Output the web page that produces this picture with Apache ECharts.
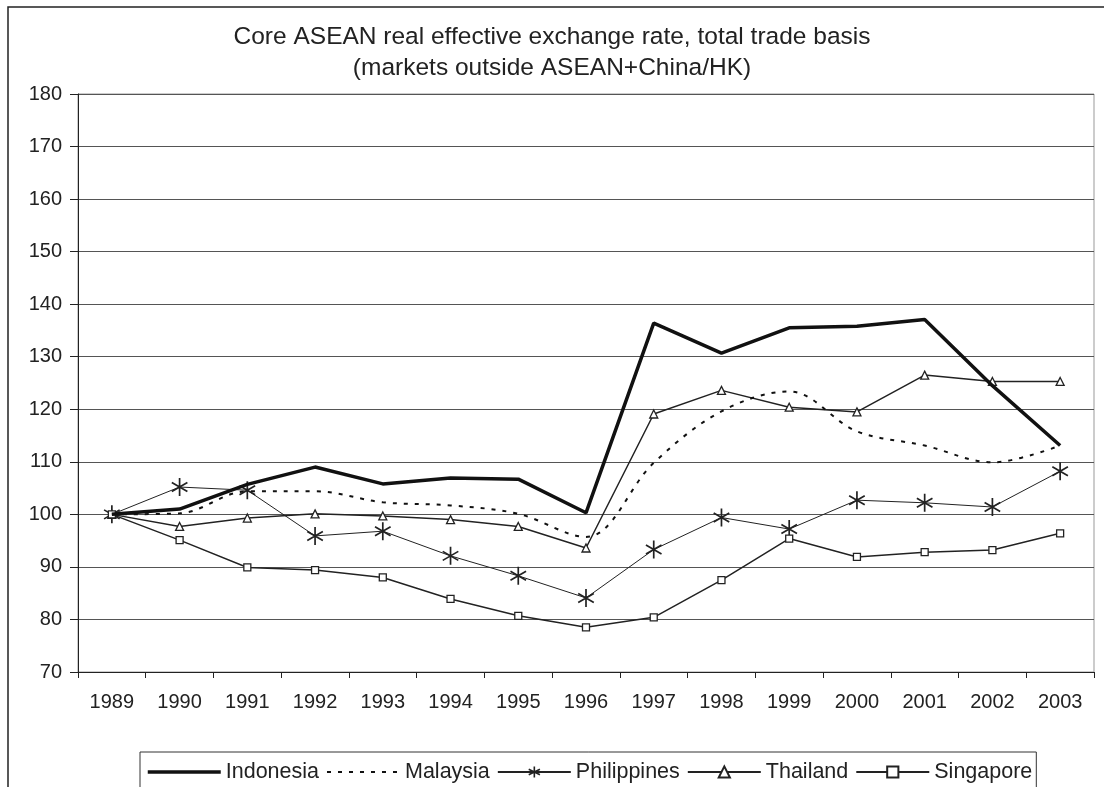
<!DOCTYPE html>
<html>
<head>
<meta charset="utf-8">
<script src="https://cdn.jsdelivr.net/npm/echarts@6/dist/echarts.min.js"></script>
<style>
  html, body { margin: 0; padding: 0; background: #fff; }
  #chart { width: 1104px; height: 787px; }
</style>
</head>
<body>
<div id="chart"></div>
<script>
// Years on the category axis
const years = ['1989','1990','1991','1992','1993','1994','1995','1996','1997','1998','1999','2000','2001','2002','2003'];

// Real effective exchange rate index, 1989 = 100
const indonesia   = [100, 101.0, 105.7, 109.0, 105.8, 106.9, 106.7, 100.3, 136.4, 130.7, 135.5, 135.8, 137.1, 124.5, 113.1];
const malaysia    = [100, 100.2, 104.4, 104.4, 102.3, 101.7, 100.1, 95.7, 109.8, 119.6, 123.4, 115.8, 113.1, 109.9, 113.1];
const philippines = [100, 105.2, 104.6, 95.9, 96.8, 92.1, 88.3, 84.1, 93.3, 99.4, 97.2, 102.7, 102.2, 101.4, 108.2];
const thailand    = [100, 97.7, 99.3, 100.1, 99.7, 99.0, 97.7, 93.6, 119.1, 123.6, 120.4, 119.5, 126.5, 125.3, 125.3];
const singapore   = [100, 95.1, 89.9, 89.4, 88.0, 83.9, 80.7, 78.5, 80.4, 87.5, 95.4, 91.9, 92.8, 93.2, 96.4];

const FONT = '"Liberation Sans", Arial, sans-serif';
const INK = '#222';
const CLEAR = 'rgba(0,0,0,0)';

// six-armed star marker
const asterisk = 'path://M0,-10L0,10M-8.66,-5L8.66,5M-8.66,5L8.66,-5';

const chart = echarts.init(document.getElementById('chart'), null, { renderer: 'canvas' });

chart.setOption({
  backgroundColor: '#fff',
  animation: false,
  textStyle: { fontFamily: FONT, color: INK },
  title: {
    text: 'Core ASEAN real effective exchange rate, total trade basis\n(markets outside ASEAN+China/HK)',
    left: 'center',
    top: 17,
    textStyle: { fontFamily: FONT, fontSize: 24.5, fontWeight: 'normal', color: INK, lineHeight: 31 }
  },
  graphic: [{
    type: 'rect',
    shape: { x: 8, y: 7, width: 1110, height: 800 },
    style: { fill: 'none', stroke: '#222', lineWidth: 1.5 },
    silent: true
  }],
  grid: { left: 78, right: 10, top: 94, bottom: 115, show: true, borderColor: '#999', borderWidth: 1 },
  legend: {
    left: 140,
    top: 752,
    itemWidth: 73,
    itemHeight: 14,
    itemGap: 7,
    padding: [9, 4, 40, 6],
    borderColor: '#333',
    borderWidth: 1,
    textStyle: { fontFamily: FONT, fontSize: 21.5, color: INK },
    data: [
      { name: 'Indonesia', itemStyle: { color: CLEAR, borderColor: CLEAR, borderWidth: 0 }, lineStyle: { width: 3.5, color: '#111' } },
      { name: 'Malaysia', itemStyle: { color: CLEAR, borderColor: CLEAR, borderWidth: 0 } },
      { name: 'Philippines', itemStyle: { color: 'none', borderColor: '#222', borderWidth: 1.6 } },
      'Thailand', 'Singapore'
    ]
  },
  xAxis: {
    type: 'category',
    data: years,
    boundaryGap: true,
    axisLine: { lineStyle: { color: '#222', width: 1 } },
    axisTick: { show: true, length: 6, lineStyle: { color: '#222' } },
    axisLabel: { fontFamily: FONT, fontSize: 20, color: INK, margin: 20 },
    splitLine: { show: false }
  },
  yAxis: {
    type: 'value',
    min: 70,
    max: 180,
    interval: 10,
    axisLine: { show: true, lineStyle: { color: '#222', width: 1 } },
    axisTick: { show: true, length: 8, lineStyle: { color: '#222' } },
    axisLabel: { fontFamily: FONT, fontSize: 20, color: INK, margin: 16 },
    splitLine: { show: true, lineStyle: { color: '#555', width: 1.2 } }
  },
  series: [
    {
      name: 'Indonesia', type: 'line', data: indonesia,
      symbol: 'none', lineStyle: { color: '#111', width: 3.5 }, itemStyle: { color: '#111' }, z: 5
    },
    {
      name: 'Malaysia', type: 'line', data: malaysia, smooth: 0.35,
      symbol: 'none', lineStyle: { color: '#111', width: 2, type: [4, 7] }, itemStyle: { color: '#111' }, z: 4
    },
    {
      name: 'Philippines', type: 'line', data: philippines,
      symbol: asterisk, symbolSize: 18, symbolKeepAspect: true, showAllSymbol: true,
      lineStyle: { color: '#222', width: 1 },
      itemStyle: { color: 'none', borderColor: '#222', borderWidth: 1.7 }, z: 3
    },
    {
      name: 'Thailand', type: 'line', data: thailand,
      symbol: 'triangle', symbolSize: 8, showAllSymbol: true,
      lineStyle: { color: '#222', width: 1.5 },
      itemStyle: { color: '#fff', borderColor: '#222', borderWidth: 1.3 }, z: 3
    },
    {
      name: 'Singapore', type: 'line', data: singapore,
      symbol: 'rect', symbolSize: 7, showAllSymbol: true,
      lineStyle: { color: '#222', width: 1.5 },
      itemStyle: { color: '#fff', borderColor: '#222', borderWidth: 1.3 }, z: 3
    }
  ]
});
</script>
</body>
</html>
